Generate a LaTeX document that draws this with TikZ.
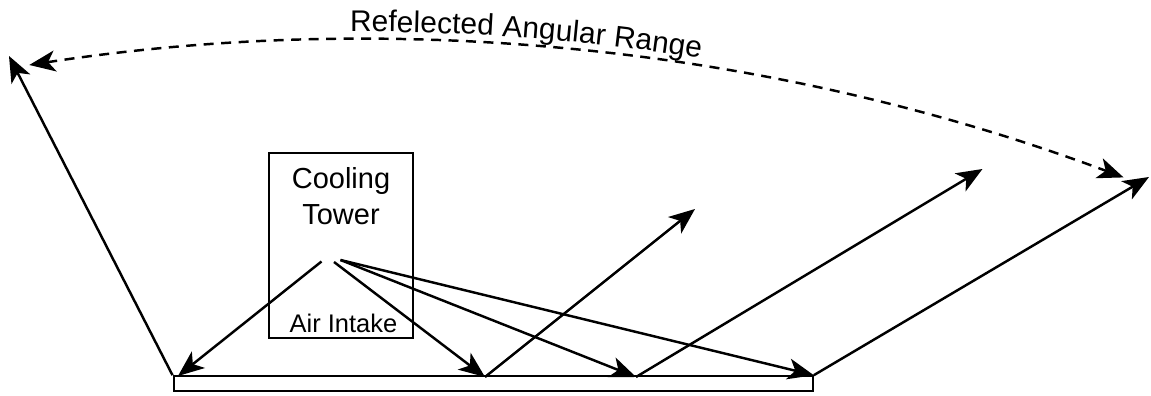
\documentclass[tikz,border=0pt]{standalone}
\usepackage{fontspec}
\setmainfont{Liberation Sans}
\usetikzlibrary{arrows.meta}
\usetikzlibrary{decorations.text}

\begin{document}
\begin{tikzpicture}[
  ray/.style={-{Stealth[length=0.52cm,width=0.42cm,inset=0.14cm]}, line width=1.4pt},
  sweep/.style={{Stealth[length=0.52cm,width=0.42cm,inset=0.14cm]}-{Stealth[length=0.52cm,width=0.42cm,inset=0.14cm]}, line width=1.4pt, dash pattern=on 0.2cm off 0.15cm}]
\useasboundingbox (0,0) rectangle (23.02,7.92);

%ground and tower
\node[draw, line width=1.3pt, inner sep=0, minimum width=12.78cm, minimum height=0.3cm, anchor=south west] (ground) at (3.45,0.07) {};
\node[draw, line width=1.3pt, inner sep=0, minimum width=2.88cm, minimum height=3.70cm] (tower) at (6.82,3.01) {};
\node[anchor=north, inner sep=0, align=center, font=\fontsize{16.5}{20.2}\selectfont] (towername) at (6.82,4.57) {Cooling\\Tower};
\node[anchor=base, inner sep=0, font=\fontsize{14.5}{17}\selectfont] (intake) at (6.87,1.27) {Air Intake};

%sources, hits, reflections
\coordinate (s1) at (6.43,2.69);
\coordinate (s2) at (6.68,2.68);
\coordinate (s3) at (6.81,2.72);
\coordinate (h1) at (3.56,0.40);
\coordinate (h2) at (9.70,0.38);
\coordinate (h3) at (12.72,0.38);
\coordinate (r1) at (0.18,6.80);
\coordinate (r2) at (13.90,3.74);
\coordinate (r3) at (19.65,4.54);
\coordinate (r4) at (22.98,4.38);

\draw[ray] (s1) -- (h1);
\draw[ray] (s2) -- (h2);
\draw[ray] (s3) -- (h3);
\draw[ray] (s3) -- (ground.north east);

\draw[ray] (ground.north west) -- (r1);
\draw[ray] (h2) -- (r2);
\draw[ray] (h3) -- (r3);
\draw[ray] (ground.north east) -- (r4);

%angular range
\draw[sweep] (0.586,6.62) arc[start angle=98.73, end angle=69.54, radius=43.66];
\path[decorate, decoration={text along path, text={|\fontsize{17}{20}\selectfont|Refelected Angular Range}, text align={left indent=6.44cm}, raise=0.16cm}]
  (0.586,6.62) arc[start angle=98.73, end angle=69.54, radius=43.66];

\end{tikzpicture}
\end{document}
